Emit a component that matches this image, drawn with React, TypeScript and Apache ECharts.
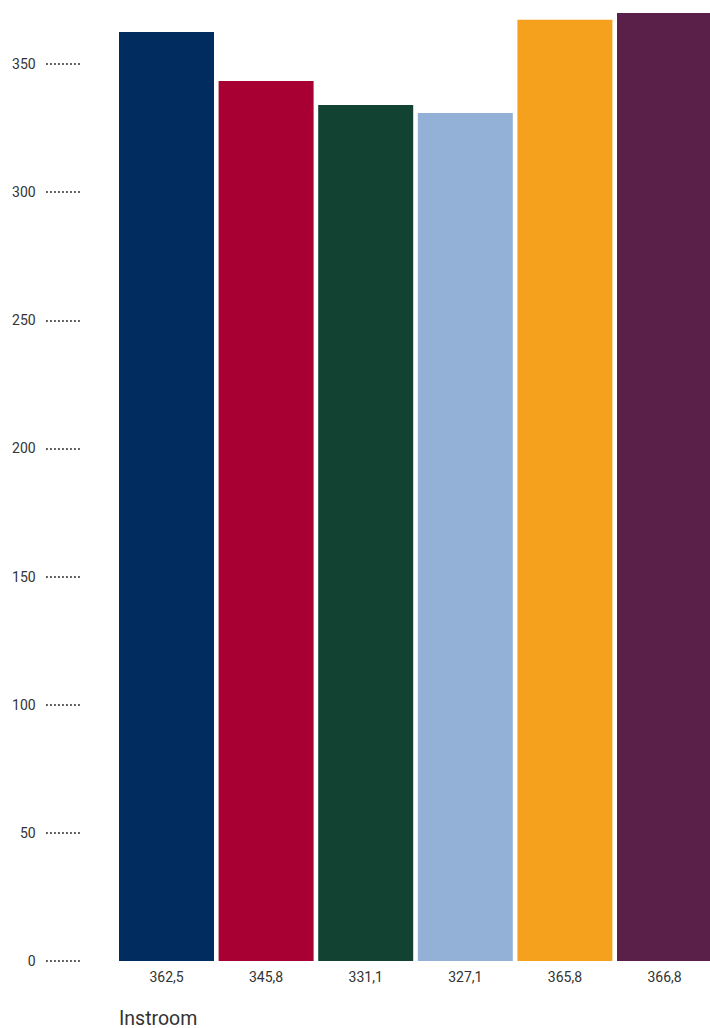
import React, { useEffect, useRef } from "react";
import * as echarts from "echarts";

const categories = ["362,5", "345,8", "331,1", "327,1", "365,8", "366,8"];
const values = [362.5, 343.3, 334.0, 330.9, 367.2, 369.9];
const colors = ["#002C5F", "#A80032", "#114232", "#93B1D7", "#F5A11E", "#5A2049"];
const yTicks = [0, 50, 100, 150, 200, 250, 300, 350];
const title = "Instroom";

export default function App() {
  const ref = useRef<HTMLDivElement>(null);
  useEffect(() => {
    document.body.style.margin = "0";
    const chart = echarts.init(ref.current!, null, { renderer: "svg" });
    const zeroY = 961;
    const pxPerUnit = 2.563;
    const max = 372;
    const top = zeroY - max * pxPerUnit;
    chart.setOption({
      animation: false,
      textStyle: { fontFamily: "Roboto" },
      grid: { left: 116.7, width: 597.6, top: top, height: max * pxPerUnit },
      xAxis: {
        type: "category",
        data: categories,
        axisLine: { show: false },
        axisTick: { show: false },
        axisLabel: { color: "#333", fontSize: 14, margin: 9, fontFamily: "Roboto" },
      },
      yAxis: {
        type: "value",
        min: 0,
        max: max,
        interval: 50,
        offset: 37,
        splitLine: { show: false },
        axisLine: { show: false },
        axisTick: {
          show: true,
          length: 34,
          customValues: yTicks,
          lineStyle: { color: "#333", width: 2, type: [1.5, 2.5] },
        },
        axisLabel: {
          color: "#333",
          fontSize: 14,
          margin: 44,
          padding: [0, 0, 6, 0],
          fontFamily: "Roboto",
          customValues: yTicks,
        },
      },
      series: [
        {
          type: "bar",
          barWidth: 95,
          data: values.map((v, i) => ({ value: v, itemStyle: { color: colors[i] } })),
        },
      ],
      graphic: [
        {
          type: "text",
          left: 119,
          top: 1008,
          style: { text: title, fontSize: 19.5, fill: "#333", fontFamily: "Roboto" },
        },
      ],
    });
    return () => chart.dispose();
  }, []);
  return (
    <div style={{ width: 710, height: 1028, overflow: "hidden", position: "relative" }}>
      <div ref={ref} style={{ width: 720, height: 1028 }} />
    </div>
  );
}
